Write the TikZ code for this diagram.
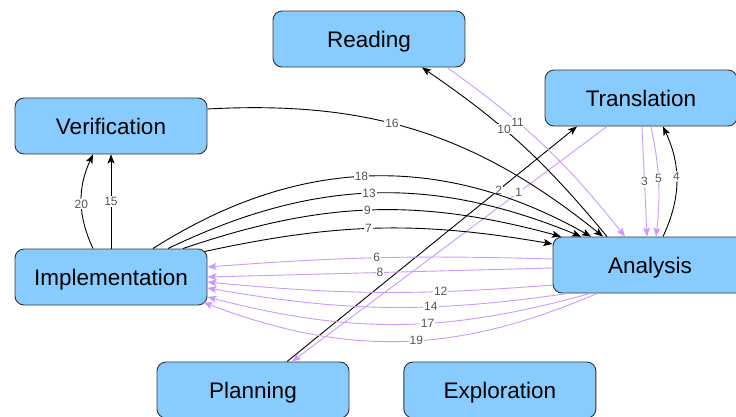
\documentclass[tikz,border=0pt]{standalone}
\usepackage{fontspec}
\setmainfont{Liberation Sans}
\usepackage{xcolor}
\usepackage{tikz}
\usetikzlibrary{arrows.meta,positioning}
\definecolor{wfSky}{HTML}{88CCFF}
\definecolor{wfLilac}{HTML}{CC99FF}
\definecolor{wfEdge}{HTML}{333333}
\definecolor{wfGrey}{HTML}{555555}
\tikzset{
  phase box/.style={draw=wfEdge,line width=0.9pt,rounded corners=9pt,fill=wfSky,
    minimum width=192pt,minimum height=56pt,inner sep=0pt,text height=18pt,text depth=2pt,
    font=\fontsize{22.5}{24}\selectfont},
  forward arrow/.style={-{Stealth[length=9pt,width=7pt,inset=2pt]},line width=0.9pt,draw=black},
  return arrow/.style={forward arrow,draw=wfLilac},
  run label/.style={fill=white,inner sep=1pt,text=wfGrey,font=\fontsize{12}{12}\selectfont}
}

\begin{document}
\begin{tikzpicture}[x=1pt,y=-1pt]
\useasboundingbox (0,0) rectangle (736,416);
\node[phase box] (reading) at (369,39) {Reading};
\node[phase box] (translation) at (641,98) {Translation};
\node[phase box] (verification) at (111,126) {Verification};
\node[phase box] (implementation) at (111,277) {Implementation};
\node[phase box,minimum width=194pt] (analysis) at (650,265) {Analysis};
\node[phase box] (planning) at (253,390) {Planning};
\node[phase box,right=54pt of planning] (exploration) {Exploration};
\draw[return arrow] ([xshift=-34pt]translation.south) -- node[run label,pos=.28]{1} ([xshift=39pt]planning.north);
\draw[forward arrow] ([xshift=34pt]planning.north) -- node[run label,pos=.73]{2} ([xshift=-64pt]translation.south);
\draw[return arrow] ([xshift=1pt]translation.south) -- node[run label]{3} ([xshift=-3pt]analysis.north);
\draw[return arrow] ([xshift=10pt]translation.south) to[bend left=9] node[run label,pos=.47]{5} ([xshift=6pt]analysis.north);
\draw[forward arrow] ([xshift=13pt]analysis.north) to[bend right=25] node[run label,pos=.55]{4} ([xshift=22pt]translation.south);
\draw[forward arrow] ([xshift=-43pt]analysis.north) to[bend right=8] node[run label,pos=.6]{10} ([xshift=53pt]reading.south);
\draw[return arrow] ([xshift=78pt]reading.south) to[bend left=8] node[run label,pos=.35]{11} ([xshift=-25pt]analysis.north);
\draw[forward arrow] ([yshift=17pt]verification.east) to[bend left=21] node[run label,pos=.43]{16} ([xshift=-47pt]analysis.north);
\draw[forward arrow] ([xshift=42pt]implementation.north) to[bend left=31] node[run label,pos=.48]{18} ([xshift=-59pt]analysis.north);
\draw[forward arrow] ([xshift=57pt]implementation.north) to[bend left=24] node[run label,pos=.49]{13} ([xshift=-69pt]analysis.north);
\draw[forward arrow] ([xshift=72pt]implementation.north) to[bend left=17] node[run label,pos=.49]{9} ([xshift=-89pt]analysis.north);
\draw[forward arrow] ([xshift=-3pt,yshift=-3pt]implementation.north east) to[bend left=11] node[run label,pos=.47]{7} ([yshift=21pt]analysis.west);
\draw[return arrow] ([yshift=6pt]analysis.west) to[bend right=3] node[run label,pos=.51]{6} ([yshift=10pt]implementation.east);
\draw[return arrow] ([yshift=-3pt]analysis.west) -- node[run label]{8} (implementation.east);
\draw[return arrow] ([yshift=-20pt]analysis.west) to[bend left=5] node[run label,pos=.31]{12} ([yshift=-5pt]implementation.east);
\draw[return arrow] ([xshift=-82pt]analysis.south) to[bend left=9] node[run label,pos=.37]{14} ([yshift=-11pt]implementation.east);
\draw[return arrow] ([xshift=-60pt]analysis.south) to[bend left=15] node[run label,pos=.42]{17} ([yshift=-20pt]implementation.east);
\draw[return arrow] ([xshift=-53pt]analysis.south) to[bend left=22] node[run label,pos=.46]{19} ([xshift=-4pt,yshift=3pt]implementation.south east);
\draw[forward arrow] (implementation.north) -- node[run label]{15} (verification.south);
\draw[forward arrow] ([xshift=-18pt]implementation.north) to[bend left=25] node[run label,pos=.47]{20} ([xshift=-18pt]verification.south);
\end{tikzpicture}
\end{document}
